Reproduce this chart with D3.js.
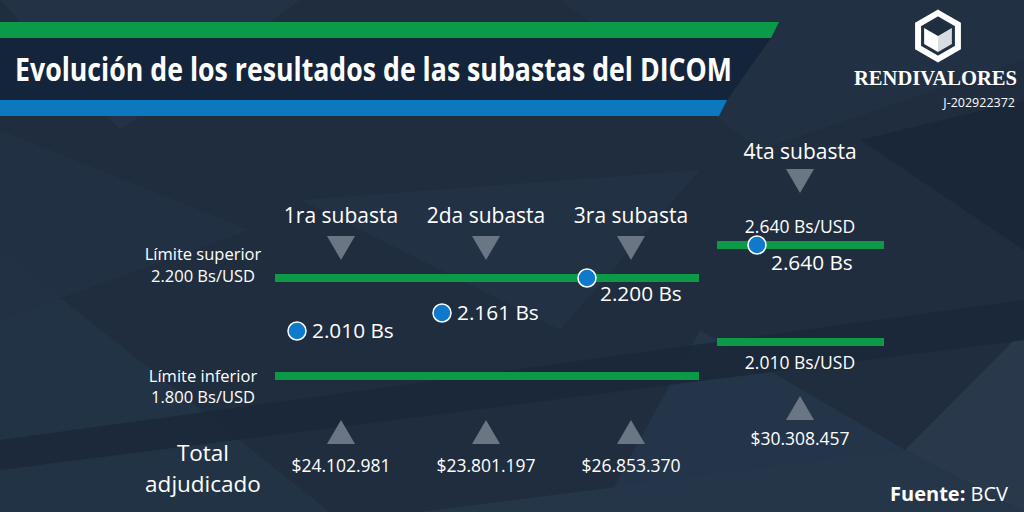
<!DOCTYPE html>
<html><head><meta charset="utf-8">
<script src="https://cdn.jsdelivr.net/npm/d3@7"></script>
<style>html,body{margin:0;padding:0;background:#1f2d3e;}svg{display:block;}</style>
</head><body>
<svg id="c" width="1024" height="512"></svg>
<script>
// ---- data ----
const auctions = ["1ra subasta", "2da subasta", "3ra subasta", "4ta subasta"];
const rates = [2010, 2161, 2200, 2640];          // Bs/USD adjudicado
const totals = [24102981, 23801197, 26853370, 30308457]; // USD adjudicado
const upperLimits = [2200, 2200, 2200, 2640];
const lowerLimits = [1800, 1800, 1800, 2010];
const title = "Evolución de los resultados de las subastas del DICOM";
const source = "BCV";

const loc = d3.formatLocale({decimal: ",", thousands: ".", grouping: [3], currency: ["$", ""]});
const fmtInt = loc.format(",d");
const fmtUsd = loc.format("$,d");

const svg = d3.select("#c");
const W = 1024, H = 512;
const FONT = "'Open Sans', 'Noto Sans', sans-serif";

// ---- background facets ----
svg.append("rect").attr("width", W).attr("height", H).attr("fill", "#1f2d3e");
const facets = [
  {p: [[0,0],[300,0],[120,130]], c: "#243346"},
  {p: [[560,0],[1024,0],[1024,60],[760,150]], c: "#223144"},
  {p: [[0,250],[330,512],[0,512]], c: "#243447"},
  {p: [[420,512],[905,450],[1024,512]], c: "#27374a"},
  {p: [[905,450],[1024,330],[1024,512]], c: "#2a3a4d"},
  {p: [[600,512],[905,450],[700,330]], c: "#26364a"},
  {p: [[0,440],[1024,300],[1024,340],[0,470]], c: "#1b2838"},
  {p: [[300,200],[560,330],[700,170]], c: "#223245"},
  {p: [[860,140],[1024,100],[1024,250]], c: "#1a2737"},
  {p: [[0,130],[250,230],[0,320]], c: "#223144"}
];
svg.append("g").selectAll("polygon").data(facets).join("polygon")
  .attr("points", d => d.p.map(q => q.join(",")).join(" "))
  .attr("fill", d => d.c).attr("opacity", 0.9);

// ---- title banner ----
const banner = svg.append("g");
banner.append("polygon").attr("points", "0,22 779,22 771,38 0,38").attr("fill", "#0a9a48");
banner.append("polygon").attr("points", "0,38 771,38 727,100 0,100").attr("fill", "#14243a");
banner.append("polygon").attr("points", "0,100 727,100 719,116 0,116").attr("fill", "#0b78bf");
const titleText = banner.append("text").attr("x", 0).attr("y", 0)
  .attr("font-family", "'Open Sans', sans-serif").attr("font-weight", 700).attr("font-size", 32)
  .attr("fill", "#fff").text(title);
const natW = titleText.node().getComputedTextLength() || 717;
titleText.attr("transform", `translate(15,81) scale(${717 / natW},1)`);

// ---- logo ----
const logo = svg.append("g").attr("transform", "translate(938,36)");
function hex(r){ return d3.range(6).map(i => { const a = Math.PI/3*i - Math.PI/2; return [r*Math.cos(a), r*Math.sin(a)]; }); }
logo.append("polygon").attr("points", hex(23).join(" ")).attr("fill", "none").attr("stroke", "#fff").attr("stroke-width", 6);
const h = hex(16);
logo.append("polygon").attr("points", [h[5], h[0], h[1], [0,0]].join(" ")).attr("fill", "#1f2d3e");
logo.append("polygon").attr("points", [h[4], h[5], [0,0], h[3]].join(" ")).attr("fill", "#ffffff");
logo.append("polygon").attr("points", [[0,0], h[1], h[2], h[3]].join(" ")).attr("fill", "#d9dde2");
svg.append("text").attr("x", 1017).attr("y", 85).attr("text-anchor", "end")
  .attr("font-family", "'Liberation Serif', 'DejaVu Serif', serif").attr("font-weight", 700)
  .attr("font-size", 20.5).attr("fill", "#fff").attr("textLength", 163).attr("lengthAdjust", "spacingAndGlyphs")
  .text("RENDIVALORES");
svg.append("text").attr("x", 1015).attr("y", 107).attr("text-anchor", "end")
  .attr("font-family", FONT).attr("font-size", 12.5).attr("fill", "#fff").text("J-202922372");

// ---- scales ----
const first = auctions.slice(0, 3);
const x = d3.scalePoint().domain(first).range([341, 631]);
const xLine = d3.scaleLinear().domain([0, 1]).range([275, 699]);
const yA = d3.scaleLinear().domain([1800, 2010, 2161, 2200]).range([376, 331, 313, 278]);
const x4 = 800, xLine4 = d3.scaleLinear().domain([0, 1]).range([717, 884]);
const y4 = d3.scaleLinear().domain([lowerLimits[3], upperLimits[3]]).range([342, 245]);
const dotOffset = -44;

const green = "#0a9a48", tri = "#6b7685", dotFill = "#0f7acc";
const g = svg.append("g").attr("font-family", FONT).attr("fill", "#fff");

// limit lines (first three auctions)
[upperLimits[0], lowerLimits[0]].forEach(v => {
  g.append("line").attr("x1", xLine(0)).attr("x2", xLine(1)).attr("y1", yA(v)).attr("y2", yA(v))
    .attr("stroke", green).attr("stroke-width", 8);
});
// limit lines 4th
[upperLimits[3], lowerLimits[3]].forEach(v => {
  g.append("line").attr("x1", xLine4(0)).attr("x2", xLine4(1)).attr("y1", y4(v)).attr("y2", y4(v))
    .attr("stroke", green).attr("stroke-width", 8);
});

// left labels
const leftX = 203, lfs = 16.5;
g.append("text").attr("x", leftX).attr("y", 260).attr("text-anchor", "middle").attr("font-size", lfs).text("Límite superior");
g.append("text").attr("x", leftX).attr("y", 282).attr("text-anchor", "middle").attr("font-size", lfs).text(fmtInt(upperLimits[0]) + " Bs/USD");
g.append("text").attr("x", leftX).attr("y", 382).attr("text-anchor", "middle").attr("font-size", lfs).text("Límite inferior");
g.append("text").attr("x", leftX).attr("y", 403).attr("text-anchor", "middle").attr("font-size", lfs).text(fmtInt(lowerLimits[0]) + " Bs/USD");
g.append("text").attr("x", leftX).attr("y", 461).attr("text-anchor", "middle").attr("font-size", 22.5).text("Total");
g.append("text").attr("x", leftX).attr("y", 492).attr("text-anchor", "middle").attr("font-size", 22.5).text("adjudicado");

function downTri(cx, top){ return [[cx-14, top],[cx+14, top],[cx, top+24]].join(" "); }
function upTri(cx, top){ return [[cx, top],[cx+14, top+24],[cx-14, top+24]].join(" "); }

const hfs = 21, tfs = 17.5, vfs = 20.8;
// first three columns
first.forEach((a, i) => {
  const cx = x(a);
  g.append("text").attr("x", cx).attr("y", 223).attr("text-anchor", "middle").attr("font-size", hfs).text(a);
  g.append("polygon").attr("points", downTri(cx, 236)).attr("fill", tri);
  g.append("polygon").attr("points", upTri(cx, 420)).attr("fill", tri);
  g.append("text").attr("x", cx).attr("y", 472).attr("text-anchor", "middle").attr("font-size", tfs).text(fmtUsd(totals[i]));
  const cy = yA(rates[i]);
  g.append("circle").attr("cx", cx + dotOffset).attr("cy", cy).attr("r", 9)
    .attr("fill", dotFill).attr("stroke", "#fff").attr("stroke-width", 1.5);
  const onLine = rates[i] === upperLimits[i];
  g.append("text").attr("x", cx + dotOffset + (onLine ? 13 : 15)).attr("y", cy + (onLine ? 23 : 7))
    .attr("font-size", vfs).text(fmtInt(rates[i]) + " Bs");
});

// 4th column
g.append("text").attr("x", x4).attr("y", 159).attr("text-anchor", "middle").attr("font-size", hfs).text(auctions[3]);
g.append("polygon").attr("points", downTri(x4, 169)).attr("fill", tri);
g.append("text").attr("x", x4).attr("y", 233).attr("text-anchor", "middle").attr("font-size", 17.5).text(fmtInt(upperLimits[3]) + " Bs/USD");
g.append("circle").attr("cx", x4 + dotOffset + 1).attr("cy", y4(rates[3])).attr("r", 9)
  .attr("fill", dotFill).attr("stroke", "#fff").attr("stroke-width", 1.5);
g.append("text").attr("x", x4 + dotOffset + 15).attr("y", y4(rates[3]) + 25).attr("font-size", vfs).text(fmtInt(rates[3]) + " Bs");
g.append("text").attr("x", x4).attr("y", 369).attr("text-anchor", "middle").attr("font-size", 17.5).text(fmtInt(lowerLimits[3]) + " Bs/USD");
g.append("polygon").attr("points", upTri(x4, 396)).attr("fill", tri);
g.append("text").attr("x", x4).attr("y", 445).attr("text-anchor", "middle").attr("font-size", tfs).text(fmtUsd(totals[3]));

// source
const src = g.append("text").attr("x", 1008).attr("y", 501).attr("text-anchor", "end").attr("font-size", 20);
src.append("tspan").attr("font-weight", 700).text("Fuente: ");
src.append("tspan").text(source);
</script>
</body></html>
